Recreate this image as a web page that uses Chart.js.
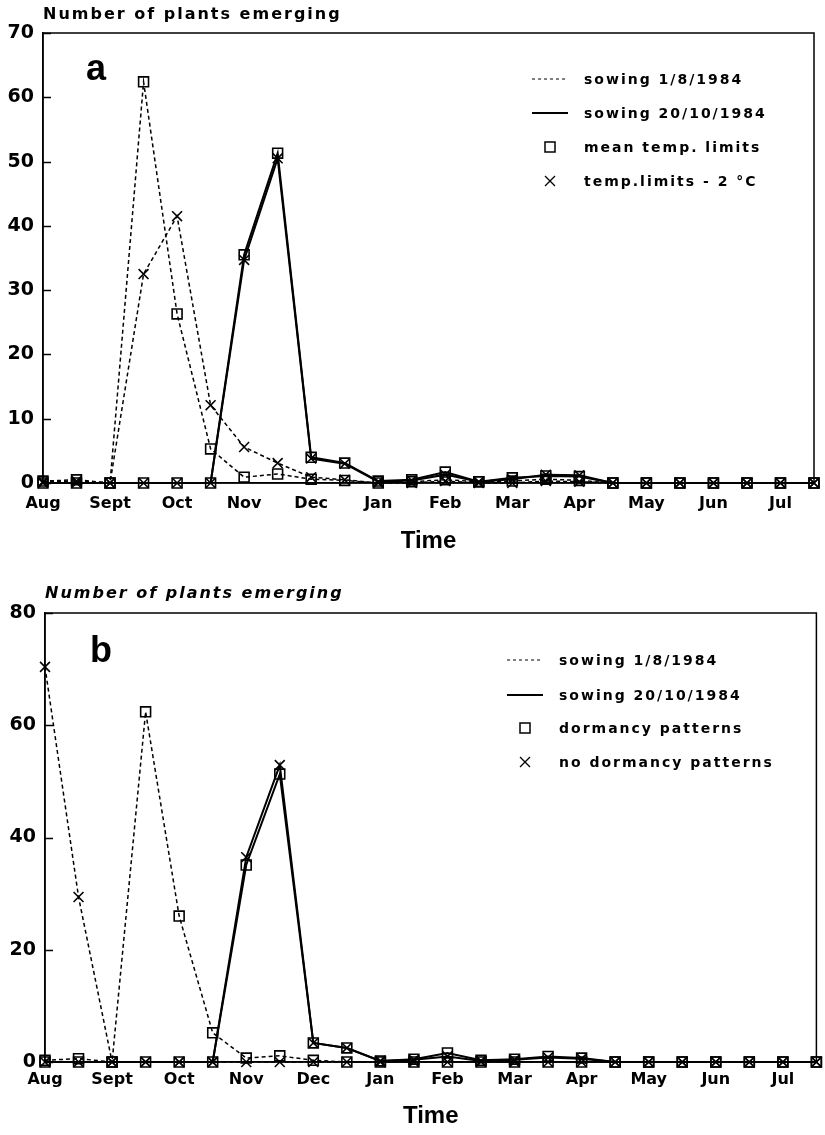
<!DOCTYPE html>
<html>
<head>
<meta charset="utf-8">
<script src="https://cdn.jsdelivr.net/npm/chart.js@4.4.1/dist/chart.umd.min.js"></script>
<style>
  body { margin: 0; background: #fff; width: 825px; height: 1135px; position: relative; overflow: hidden; font-family: "DejaVu Sans", sans-serif; color: #000; }
  canvas { position: absolute; left: 0; }
  .txt { position: absolute; white-space: nowrap; }
  .ytitle { font-weight: bold; font-size: 16px; line-height: 16px; letter-spacing: 2px; }
  .panel { font-family: "Liberation Sans", sans-serif; font-weight: bold; font-size: 36px; line-height: 36px; }
  .legtext { font-weight: bold; font-size: 14px; line-height: 14px; letter-spacing: 2px; }
  svg.sample { position: absolute; }
</style>
</head>
<body>
<canvas id="chartA" width="825" height="560" style="top:0"></canvas>
<canvas id="chartB" width="825" height="575" style="top:560px"></canvas>

<div class="txt ytitle" style="left:43px;top:6px">Number of plants emerging</div>
<div class="txt ytitle" style="left:45px;top:585px;font-style:italic">Number of plants emerging</div>
<div class="txt panel" style="left:86px;top:50px">a</div>
<div class="txt panel" style="left:90px;top:632px">b</div>
<div id="legA"></div>
<div id="legB"></div>

<script>
// x axis: half-month steps from 1 Aug to mid Jul (24 points)
const months = ['Aug', 'Sept', 'Oct', 'Nov', 'Dec', 'Jan', 'Feb', 'Mar', 'Apr', 'May', 'Jun', 'Jul'];
const xLabels = months.flatMap(m => [m, '']);

// panel a
const aEarlyMean   = [0.3, 0.5, 0, 62.4, 26.3, 5.3, 0.9, 1.4, 0.6, 0.4, 0, 0.2, 0.5, 0.2, 0.3, 0.6, 0.4, 0, 0, 0, 0, 0, 0, 0];
const aEarlyMinus2 = [0.2, 0.3, 0, 32.5, 41.5, 12.1, 5.6, 3.1, 0.9, 0.5, 0, 0, 0.3, 0, 0, 0.3, 0.2, 0, 0, 0, 0, 0, 0, 0];
const aLateMean    = [0, 0, 0, 0, 0, 0, 35.5, 51.3, 4.0, 3.1, 0.3, 0.5, 1.7, 0.2, 0.8, 1.1, 1.0, 0, 0, 0, 0, 0, 0, 0];
const aLateMinus2  = [0, 0, 0, 0, 0, 0, 34.7, 50.5, 3.8, 3.0, 0.2, 0.4, 1.3, 0.2, 0.6, 1.3, 1.2, 0, 0, 0, 0, 0, 0, 0];
const aLegend = ['sowing 1/8/1984', 'sowing 20/10/1984', 'mean temp. limits', 'temp.limits - 2 °C'];

// panel b
const bEarlyDorm   = [0.3, 0.6, 0, 62.4, 26.0, 5.2, 0.7, 1.1, 0.3, 0, 0, 0, 0, 0, 0, 0, 0, 0, 0, 0, 0, 0, 0, 0];
const bEarlyNoDorm = [70.4, 29.4, 0, 0, 0, 0, 0, 0, 0, 0, 0, 0, 0, 0, 0, 0, 0, 0, 0, 0, 0, 0, 0, 0];
const bLateDorm    = [0, 0, 0, 0, 0, 0, 35.1, 51.3, 3.4, 2.5, 0.2, 0.5, 1.6, 0.3, 0.5, 1.0, 0.7, 0, 0, 0, 0, 0, 0, 0];
const bLateNoDorm  = [0, 0, 0, 0, 0, 0, 36.5, 52.9, 3.4, 2.5, 0.2, 0.4, 1.0, 0.2, 0.4, 0.8, 0.6, 0, 0, 0, 0, 0, 0, 0];
const bLegend = ['sowing 1/8/1984', 'sowing 20/10/1984', 'dormancy patterns', 'no dormancy patterns'];

Chart.defaults.font.family = 'DejaVu Sans';
Chart.defaults.color = '#000';

function ds(label, data, dashed, style) {
  return {
    label, data,
    borderColor: '#000',
    borderWidth: dashed ? 1.5 : 2,
    borderDash: dashed ? [4, 3] : [],
    pointStyle: style,
    pointRadius: 7,
    pointBorderWidth: 1.6,
    pointBorderColor: '#000',
    pointBackgroundColor: 'rgba(0,0,0,0)',
    tension: 0,
    clip: false
  };
}

// box round the plot area, with short ticks pointing inwards from the y axis
const frame = {
  id: 'frame',
  afterDraw(chart) {
    const { ctx, chartArea: a } = chart;
    const y = chart.scales.y;
    ctx.save();
    ctx.strokeStyle = '#000';
    ctx.lineWidth = 1.5;
    ctx.strokeRect(a.left, a.top, a.right - a.left, a.bottom - a.top);
    ctx.beginPath();
    y.ticks.forEach(t => {
      const py = Math.round(y.getPixelForValue(t.value)) + 0.5;
      ctx.moveTo(a.left, py);
      ctx.lineTo(a.left + 8, py);
    });
    ctx.stroke();
    ctx.restore();
  }
};

function makeChart(id, datasets, yMax, yStep, pad) {
  return new Chart(document.getElementById(id), {
    type: 'line',
    data: { labels: xLabels, datasets },
    options: {
      responsive: false,
      animation: false,
      layout: { padding: { top: pad.top, right: pad.right, left: 0, bottom: 0 } },
      plugins: { legend: { display: false }, tooltip: { enabled: false } },
      scales: {
        x: {
          type: 'category',
          offset: false,
          grid: { display: true, drawOnChartArea: false, drawTicks: false },
          border: { display: true, color: '#000', width: 1.5 },
          ticks: { autoSkip: false, maxRotation: 0, padding: pad.xPad, color: '#000',
                   font: { family: 'DejaVu Sans', weight: 'bold', size: 16 } },
          title: { display: true, text: 'Time', color: '#000',
                   font: { family: 'Liberation Sans', weight: 'bold', size: 24 },
                   padding: { top: 0, bottom: 4 } },
          afterFit: s => { s.height = pad.xH; }
        },
        y: {
          min: 0, max: yMax,
          grid: { display: true, drawOnChartArea: false, drawTicks: false },
          border: { display: true, color: '#000', width: 1.5 },
          ticks: { stepSize: yStep, padding: 9, color: '#000',
                   font: { family: 'DejaVu Sans', weight: 'bold', size: 19 } },
          afterFit: s => { s.width = pad.yW; }
        }
      }
    },
    plugins: [frame]
  });
}

makeChart('chartA', [
  ds(aLegend[0] + ' / ' + aLegend[2], aEarlyMean, true, 'rect'),
  ds(aLegend[0] + ' / ' + aLegend[3], aEarlyMinus2, true, 'crossRot'),
  ds(aLegend[1] + ' / ' + aLegend[2], aLateMean, false, 'rect'),
  ds(aLegend[1] + ' / ' + aLegend[3], aLateMinus2, false, 'crossRot')
], 70, 10, { top: 33, right: 7, xH: 77, yW: 43, xPad: 11 });

makeChart('chartB', [
  ds(bLegend[0] + ' / ' + bLegend[2], bEarlyDorm, true, 'rect'),
  ds(bLegend[0] + ' / ' + bLegend[3], bEarlyNoDorm, true, 'crossRot'),
  ds(bLegend[1] + ' / ' + bLegend[2], bLateDorm, false, 'rect'),
  ds(bLegend[1] + ' / ' + bLegend[3], bLateNoDorm, false, 'crossRot')
], 80, 20, { top: 53, right: 5, xH: 73, yW: 45, xPad: 8 });

// legend inside the plot, drawn as html
function sampleSvg(kind) {
  const ns = 'http://www.w3.org/2000/svg';
  const svg = document.createElementNS(ns, 'svg');
  svg.setAttribute('width', 36); svg.setAttribute('height', 14);
  let el;
  if (kind === 'dash' || kind === 'solid') {
    el = document.createElementNS(ns, 'line');
    el.setAttribute('x1', 0); el.setAttribute('x2', 36); el.setAttribute('y1', 7); el.setAttribute('y2', 7);
    el.setAttribute('stroke', '#000');
    el.setAttribute('stroke-width', kind === 'dash' ? 1 : 2);
    if (kind === 'dash') el.setAttribute('stroke-dasharray', '3,3');
    svg.appendChild(el);
  } else if (kind === 'square') {
    el = document.createElementNS(ns, 'rect');
    el.setAttribute('x', 13); el.setAttribute('y', 2); el.setAttribute('width', 10); el.setAttribute('height', 10);
    el.setAttribute('fill', 'none'); el.setAttribute('stroke', '#000'); el.setAttribute('stroke-width', 1.5);
    svg.appendChild(el);
  } else {
    [[13, 2, 23, 12], [13, 12, 23, 2]].forEach(p => {
      const l = document.createElementNS(ns, 'line');
      l.setAttribute('x1', p[0]); l.setAttribute('y1', p[1]); l.setAttribute('x2', p[2]); l.setAttribute('y2', p[3]);
      l.setAttribute('stroke', '#000'); l.setAttribute('stroke-width', 1.2);
      svg.appendChild(l);
    });
  }
  return svg;
}

function makeLegend(id, names, sampleX, textX, rowsY) {
  const box = document.getElementById(id);
  const kinds = ['dash', 'solid', 'square', 'cross'];
  names.forEach((name, i) => {
    const svg = sampleSvg(kinds[i]);
    svg.classList.add('sample');
    svg.style.left = sampleX + 'px';
    svg.style.top = (rowsY[i] - 7) + 'px';
    box.appendChild(svg);
    const t = document.createElement('div');
    t.className = 'txt legtext';
    t.style.left = textX + 'px';
    t.style.top = (rowsY[i] - 7) + 'px';
    t.textContent = name;
    box.appendChild(t);
  });
}

makeLegend('legA', aLegend, 532, 584, [79, 113, 147, 181]);
makeLegend('legB', bLegend, 507, 559, [660, 695, 728, 762]);
</script>
</body>
</html>
